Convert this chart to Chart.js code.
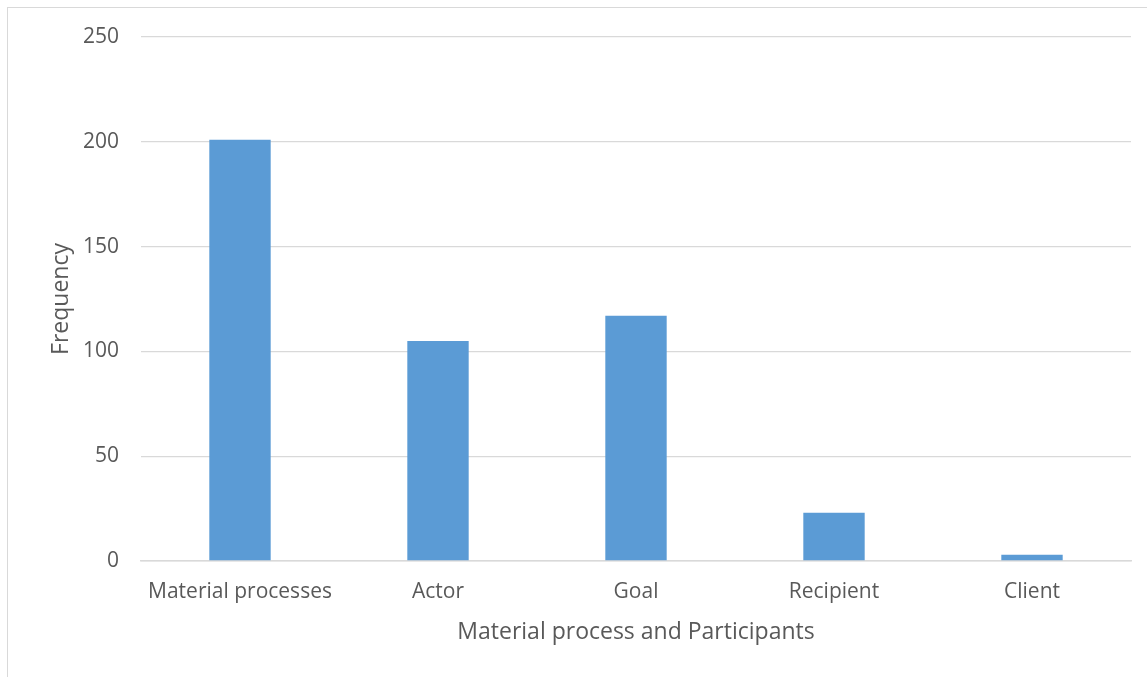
<!DOCTYPE html>
<html>
<head>
<meta charset="utf-8">
<script src="https://cdn.jsdelivr.net/npm/chart.js@4.4.0/dist/chart.umd.min.js"></script>
<style>
  html, body { margin: 0; padding: 0; background: #fff; overflow: hidden; }
  #wrap { position: relative; width: 1147px; height: 677px; }
  #frame { position: absolute; left: 7px; top: 7px; width: 1200px; height: 700px; border: 1px solid #d9d9d9; }
  #chart1 { position: absolute; left: 0; top: 0; }
</style>
</head>
<body>
<div id="wrap">
  <div id="frame"></div>
  <canvas id="chart1" width="1147" height="677"></canvas>
</div>
<script>
const categories = ['Material processes', 'Actor', 'Goal', 'Recipient', 'Client'];
const frequency = [201, 105, 117, 23, 3];
const yTicks = [0, 50, 100, 150, 200, 250];

const textColor = '#595959';
const gridColor = '#d9d9d9';
const tickFont = { family: '"Open Sans", sans-serif', size: 21 };
const titleFont = { family: '"Open Sans", sans-serif', size: 23 };

new Chart(document.getElementById('chart1'), {
  type: 'bar',
  data: {
    labels: categories,
    datasets: [{
      label: 'Frequency',
      data: frequency,
      backgroundColor: '#5b9bd5',
      borderWidth: 0,
      barPercentage: 0.31,
      categoryPercentage: 1
    }]
  },
  options: {
    responsive: false,
    animation: false,
    layout: { padding: { top: 37, right: 16, bottom: 0, left: 0 } },
    plugins: {
      legend: { display: false },
      tooltip: { enabled: false }
    },
    scales: {
      y: {
        min: 0,
        max: 250,
        afterBuildTicks(scale) { scale.ticks = yTicks.map(v => ({ value: v })); },
        afterFit(scale) { scale.width = 141; },
        grid: { color: gridColor, lineWidth: 1.3, drawTicks: false },
        border: { display: false },
        ticks: { color: textColor, font: tickFont, padding: 22 },
        title: { display: true, text: 'Frequency', color: textColor, font: titleFont, padding: { top: 48, bottom: 0 } }
      },
      x: {
        afterFit(scale) { scale.height = 116; },
        grid: { display: false, drawTicks: false },
        border: { display: true, color: gridColor, width: 1.5 },
        ticks: { color: textColor, font: tickFont, padding: 18, maxRotation: 0 },
        title: { display: true, text: 'Material process and Participants', color: textColor, font: titleFont, padding: { top: 0, bottom: 31 } }
      }
    }
  }
});
</script>
</body>
</html>
